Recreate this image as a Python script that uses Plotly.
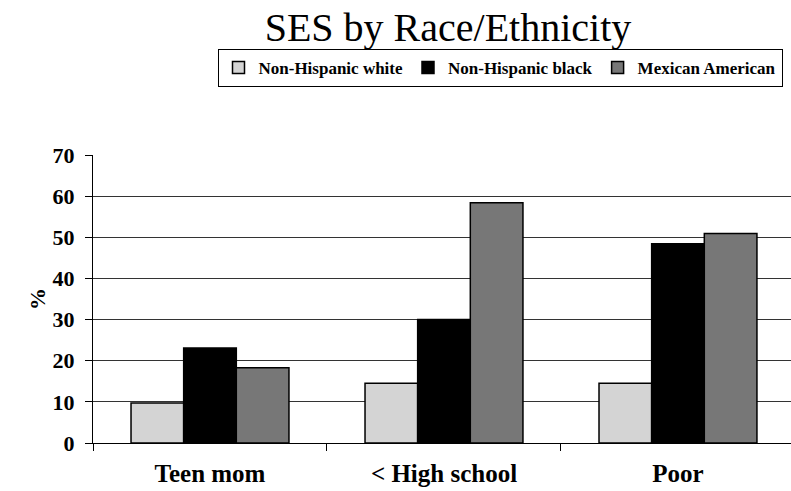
import plotly.graph_objects as go

categories = ["Teen mom", "< High school", "Poor"]
series_names = ["Non-Hispanic white", "Non-Hispanic black", "Mexican American"]
white_vals = [9.7, 14.5, 14.5]
black_vals = [23.1, 30.0, 48.4]
mexican_vals = [18.3, 58.4, 50.9]
y_ticks = [0, 10, 20, 30, 40, 50, 60, 70]

colors = ["#D4D4D4", "#000000", "#777777"]
values = [white_vals, black_vals, mexican_vals]

FONT = "Liberation Serif"

fig = go.Figure()
for name, vals, col in zip(series_names, values, colors):
    fig.add_trace(go.Bar(
        x=categories, y=vals, name=name,
        marker=dict(color=col, line=dict(color="#000000", width=1.5)),
    ))

fig.update_layout(
    width=791, height=491,
    margin=dict(l=93, r=0, t=155, b=48),
    paper_bgcolor="white", plot_bgcolor="white",
    barmode="group", bargap=0.325, bargroupgap=0,
    title=dict(text="SES by Race/Ethnicity", x=448 / 791, xanchor="center",
               y=1 - 27 / 491, yanchor="middle", yref="container",
               font=dict(family=FONT, size=40, color="black")),
    legend=dict(orientation="h", x=(500 - 93) / 698, xanchor="center",
                y=(443 - 68) / 288, yanchor="middle",
                bordercolor="black", borderwidth=1, bgcolor="white",
                font=dict(family=FONT, size=17, color="black", weight="bold"),
                itemwidth=30, tracegroupgap=0, traceorder="normal"),
    showlegend=True,
)

fig.update_xaxes(
    range=[-0.5, 2.483], type="category",
    showline=True, linecolor="black", linewidth=1,
    ticks="outside", tickson="boundaries", ticklen=7, tickcolor="black",
    showgrid=False, zeroline=False,
    tickfont=dict(family=FONT, size=25, color="black", weight="bold"),
    ticklabelstandoff=8,
)
fig.update_yaxes(
    range=[0, 70], tickvals=y_ticks,
    showline=True, linecolor="black", linewidth=1,
    ticks="outside", ticklen=7, tickcolor="black",
    showgrid=True, gridcolor="#333333", gridwidth=1,
    zeroline=False,
    tickfont=dict(family=FONT, size=22, color="black", weight="bold"),
    ticklabelstandoff=6,
    title=dict(text="%", font=dict(family=FONT, size=22, color="black", weight="bold"),
               standoff=0),
)

fig.write_html("out.html")
